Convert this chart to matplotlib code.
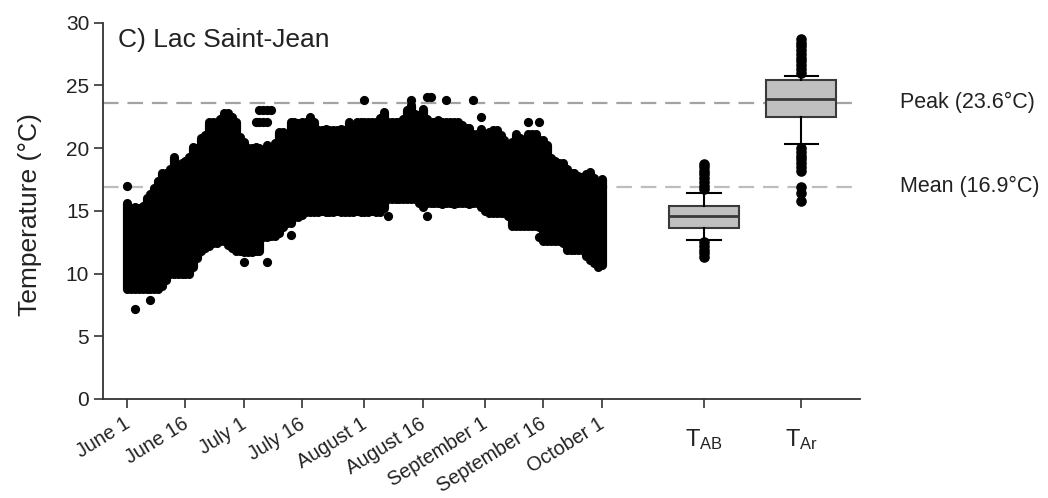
import numpy as np
import matplotlib
matplotlib.use("Agg")
import matplotlib.pyplot as plt
import matplotlib.transforms as mtransforms

plt.rcParams["font.family"] = ["Liberation Sans", "DejaVu Sans"]
plt.rcParams["mathtext.default"] = "regular"

# daily lake temperature range, day 0 = June 1 ... day 122 = October 1
day = list(range(123))
daily_high = [15.6, 15.2, 15.3, 15.2, 15.4, 16.0, 16.3, 16.8, 17.4, 18.0,
              18.0, 18.3, 19.3, 18.6, 18.8, 19.0, 19.3, 20.1, 20.0, 20.8,
              21.0, 22.1, 22.1, 22.1, 22.3, 22.8, 22.8, 22.5, 22.1, 20.9,
              20.5, 20.0, 20.0, 20.1, 20.0, 19.8, 20.2, 20.0, 20.4, 21.3,
              21.3, 21.0, 22.1, 22.1, 22.0, 22.1, 22.1, 22.5, 22.1, 21.4,
              21.4, 21.5, 21.4, 21.4, 21.4, 21.5, 21.4, 22.1, 21.5, 22.1,
              22.1, 22.1, 22.1, 22.1, 22.1, 22.4, 22.9, 22.1, 22.1, 22.1,
              22.1, 22.3, 23.0, 23.4, 22.7, 22.6, 23.1, 22.3, 22.1, 22.1,
              22.2, 22.1, 22.1, 22.1, 22.1, 22.1, 21.8, 21.6, 21.6, 21.1,
              21.1, 21.5, 21.0, 21.3, 21.4, 21.4, 21.0, 20.6, 20.2, 20.5,
              21.1, 20.8, 20.2, 21.1, 21.1, 21.1, 20.6, 20.6, 20.2, 19.2,
              19.0, 18.8, 18.8, 18.3, 18.0, 18.0, 17.8, 17.7, 17.9, 18.1,
              17.6, 17.2, 17.5]
daily_low = [8.8, 8.8, 8.8, 8.8, 8.8, 8.8, 8.8, 8.8, 8.8, 9.0,
             9.5, 10.0, 10.0, 10.0, 10.0, 10.0, 10.0, 10.5, 11.2, 11.8,
             12.0, 12.2, 12.4, 12.4, 12.6, 12.6, 12.3, 12.0, 11.8, 11.8,
             11.7, 11.7, 11.7, 11.8, 11.8, 12.9, 12.9, 13.0, 13.0, 13.2,
             13.7, 14.0, 14.0, 14.5, 14.5, 14.7, 14.9, 14.9, 14.9, 14.9,
             15.0, 14.9, 14.9, 14.9, 15.0, 14.9, 14.9, 14.9, 14.9, 15.0,
             14.9, 14.9, 14.9, 15.0, 14.9, 14.9, 15.2, 15.9, 15.9, 15.9,
             15.9, 15.9, 15.9, 15.9, 15.9, 15.6, 15.3, 15.6, 15.6, 15.6,
             15.6, 15.5, 15.6, 15.6, 15.5, 15.6, 15.6, 15.6, 15.5, 15.6,
             15.6, 15.3, 15.0, 14.8, 14.8, 14.8, 14.8, 14.8, 14.6, 13.8,
             13.8, 13.8, 13.8, 13.8, 13.8, 13.8, 13.7, 12.6, 12.6, 12.6,
             12.6, 12.6, 12.4, 11.9, 11.9, 11.9, 11.9, 11.9, 11.4, 11.1,
             10.8, 10.5, 10.7]

# readings standing apart from the main band
iso_day = [0, 2, 6, 30, 36, 42, 67, 77, 106,
           33, 34, 35, 36, 34, 35, 36, 37,
           61, 73, 77, 78, 82, 89, 91, 103, 106]
iso_temp = [17.0, 7.2, 7.9, 10.9, 10.9, 13.1, 14.6, 14.6, 12.9,
            22.1, 22.1, 22.1, 22.1, 23.0, 23.0, 23.0, 23.0,
            23.8, 23.8, 24.1, 24.1, 23.8, 23.8, 22.5, 22.1, 22.1]

# boxplot summaries
box_labels = [r"$T_{AB}$", r"$T_{Ar}$"]
box_q1 = [13.6, 22.5]
box_med = [14.6, 23.9]
box_q3 = [15.4, 25.4]
box_lo = [12.7, 20.3]
box_hi = [16.4, 25.7]
box_fliers = [
    [16.7, 17.0, 17.3, 17.6, 17.9, 18.2, 18.5, 18.7,
     12.5, 12.2, 11.9, 11.6, 11.3],
    [26.0, 26.3, 26.6, 26.9, 27.2, 27.5, 27.8, 28.1, 28.4, 28.7,
     20.0, 19.7, 19.4, 19.1, 18.8, 18.5, 18.2,
     16.9, 16.4, 15.8],
]

peak_temp = 23.6
mean_temp = 16.9

date_ticks = [0, 15, 30, 45, 61, 76, 92, 107, 122]
date_labels = ["June 1", "June 16", "July 1", "July 16", "August 1",
               "August 16", "September 1", "September 16", "October 1"]
box_pos = [148.3, 173.3]

fig = plt.figure(figsize=(10.48, 4.98), dpi=100)
ax = fig.add_axes([0.0983, 0.1988, 0.7223, 0.756])

ax.axhline(peak_temp, color="#a3a3a3", lw=1.6, dashes=(7, 4), zorder=0)
ax.axhline(mean_temp, color="#bdbdbd", lw=1.6, dashes=(7, 4), zorder=0)

ax.vlines(day, daily_low, daily_high, colors="black", linewidth=6.6,
          capstyle="round", zorder=2)
ax.scatter(iso_day, iso_temp, s=44, c="black", linewidths=0, zorder=2)

stats = []
for i in range(2):
    stats.append(dict(med=box_med[i], q1=box_q1[i], q3=box_q3[i],
                      whislo=box_lo[i], whishi=box_hi[i],
                      fliers=box_fliers[i], label=box_labels[i]))
ax.bxp(stats, positions=box_pos, widths=18, capwidths=8.5, patch_artist=True,
       boxprops=dict(facecolor="#c0c0c0", edgecolor="#3a3a3a", linewidth=1.5),
       medianprops=dict(color="#3a3a3a", linewidth=2),
       whiskerprops=dict(color="black", linewidth=1.5),
       capprops=dict(color="black", linewidth=1.5),
       flierprops=dict(marker="o", markerfacecolor="black",
                       markeredgecolor="black", markersize=6.6),
       manage_ticks=False, zorder=3)

ax.set_xlim(-6.2, 188.4)
ax.set_ylim(0, 30)
ax.set_yticks([0, 5, 10, 15, 20, 25, 30])
ax.set_xticks(date_ticks + box_pos)
ax.set_xticklabels(date_labels + box_labels)

for s in ["top", "right"]:
    ax.spines[s].set_visible(False)
for s in ["left", "bottom"]:
    ax.spines[s].set_color("#333333")
    ax.spines[s].set_linewidth(1.3)
ax.tick_params(direction="out", length=6.5, width=1.2, color="#333333",
               labelsize=15, labelcolor="#222222")
ax.tick_params(axis="x", pad=4.5)

shift = mtransforms.ScaledTranslation(6 / 100, 0, fig.dpi_scale_trans)
for lab in ax.get_xticklabels()[:9]:
    lab.set_rotation(32)
    lab.set_ha("right")
    lab.set_fontsize(14.2)
    lab.set_transform(lab.get_transform() + shift)
for lab in ax.get_xticklabels()[9:]:
    lab.set_fontsize(17)
for t in ax.xaxis.get_major_ticks()[9:]:
    t.set_pad(14)

ax.set_ylabel("Temperature (°C)", fontsize=19, color="#222222")
ax.yaxis.set_label_coords(-0.08, 0.49)

ax.text(0.02, 29.6, "C) Lac Saint-Jean", fontsize=19, va="top", ha="left",
        transform=ax.get_yaxis_transform(), color="#222222")
ax.text(1.053, peak_temp, "Peak (23.6°C)", fontsize=15.5, va="center",
        transform=ax.get_yaxis_transform(), clip_on=False, color="#222222")
ax.text(1.053, mean_temp, "Mean (16.9°C)", fontsize=15.5, va="center",
        transform=ax.get_yaxis_transform(), clip_on=False, color="#222222")

fig.savefig("out.png", dpi=100)
